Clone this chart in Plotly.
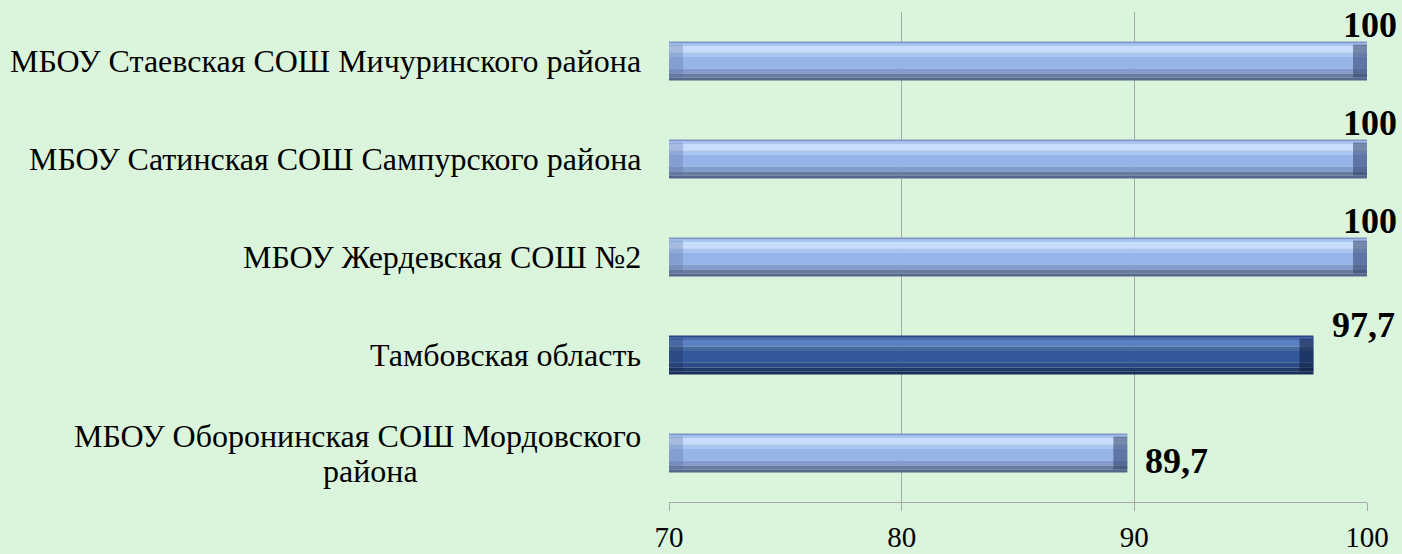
import plotly.graph_objects as go

# ---- data (bottom to top) ----
categories = [
    "МБОУ Оборонинская СОШ Мордовского<br>района",
    "Тамбовская область",
    "МБОУ Жердевская СОШ №2",
    "МБОУ Сатинская СОШ Сампурского района",
    "МБОУ Стаевская СОШ Мичуринского района",
]
values = [89.7, 97.7, 100, 100, 100]
value_labels = ["89,7", "97,7", "100", "100", "100"]
highlight = [False, True, False, False, False]
x_ticks = [70, 80, 90, 100]

# ---- styling ----
FONT = "Liberation Serif, Times New Roman, serif"
BG = "#daf5dc"
GRID = "#a8a8a8"
BAR_H = 0.4
# stripes: (frac_from_top_start, frac_end, light colour, dark colour)
stripes = [
    (0.00, 0.05, "#8196c6", "#2a4680"),
    (0.05, 0.12, "#abc5f1", "#4a6db0"),
    (0.12, 0.28, "#c8ddfb", "#5b80c4"),
    (0.28, 0.40, "#abc5f2", "#46699f"),
    (0.40, 0.70, "#97b4e9", "#34589c"),
    (0.70, 0.82, "#849bce", "#2c4b88"),
    (0.82, 0.92, "#687ba3", "#213a6c"),
    (0.92, 1.00, "#56678e", "#1a2f58"),
]
label_dx = [16, 17, 3, 3, 3]
label_dy = [-8, 30, 36, 36, 36]
label_anchor = ["left", "left", "center", "center", "center"]
LINE_GAP = 35  # px between lines of a wrapped category label

fig = go.Figure()
for f0, f1, cl, cd in stripes:
    fig.add_trace(go.Bar(
        y=categories, x=values, orientation="h",
        width=(f1 - f0) * BAR_H,
        offset=BAR_H / 2 - f1 * BAR_H,
        marker=dict(color=[cd if h else cl for h in highlight], line=dict(width=0)),
        hoverinfo="skip", showlegend=False,
    ))

# end bevels (caps) drawn as short bars on top
cap = 0.6
fig.add_trace(go.Bar(
    y=categories, x=[cap] * len(values), base=[v - cap for v in values],
    orientation="h", width=BAR_H * 0.84, offset=-BAR_H * 0.42,
    marker=dict(color=["rgba(15,30,60,0.55)" if h else "rgba(50,65,105,0.55)" for h in highlight],
                line=dict(width=0)),
    hoverinfo="skip", showlegend=False,
))
fig.add_trace(go.Bar(
    y=categories, x=[cap] * len(values), base=[70] * len(values),
    orientation="h", width=BAR_H * 0.84, offset=-BAR_H * 0.42,
    marker=dict(color=["rgba(20,35,70,0.25)" if h else "rgba(90,110,160,0.3)" for h in highlight],
                line=dict(width=0)),
    hoverinfo="skip", showlegend=False,
))

annotations = []
for i, c in enumerate(categories):
    lines = c.split("<br>")
    n = len(lines)
    for k, line in enumerate(lines):
        annotations.append(dict(
            x=0, xref="paper", y=c, yref="y", text=line, showarrow=False,
            xanchor="right" if k == 0 else "center",
            xshift=-26 if k == 0 else -299,
            yshift=((n - 1) / 2 - k) * LINE_GAP,
            font=dict(family=FONT, size=32, color="black"),
        ))
    annotations.append(dict(
        x=values[i], xref="x", y=c, yref="y", text="<b>" + value_labels[i] + "</b>",
        showarrow=False, xanchor=label_anchor[i], xshift=label_dx[i], yshift=label_dy[i],
        font=dict(family=FONT, size=36, color="black"),
    ))

fig.update_layout(
    width=1402, height=554,
    paper_bgcolor=BG, plot_bgcolor=BG,
    margin=dict(l=669, r=35, t=12, b=52, autoexpand=False),
    barmode="overlay",
    annotations=annotations,
    xaxis=dict(
        range=[70, 100], tickvals=x_ticks, ticktext=[str(t) for t in x_ticks],
        showgrid=True, gridcolor=GRID, gridwidth=1,
        showline=True, linecolor=GRID, linewidth=1,
        ticks="outside", ticklen=8, tickcolor=GRID,
        ticklabelstandoff=1, automargin=False,
        tickfont=dict(family=FONT, size=29, color="black"),
        zeroline=False, fixedrange=True,
    ),
    yaxis=dict(
        type="category", categoryorder="array", categoryarray=categories,
        range=[-0.5, 4.5], showticklabels=False, showgrid=False,
        showline=False, ticks="", zeroline=False, fixedrange=True,
        automargin=False,
    ),
)

fig.write_html(
    "out.html",
    config={"displayModeBar": False},
    post_script="document.body.style.margin='0';document.body.style.overflow='hidden';",
)
